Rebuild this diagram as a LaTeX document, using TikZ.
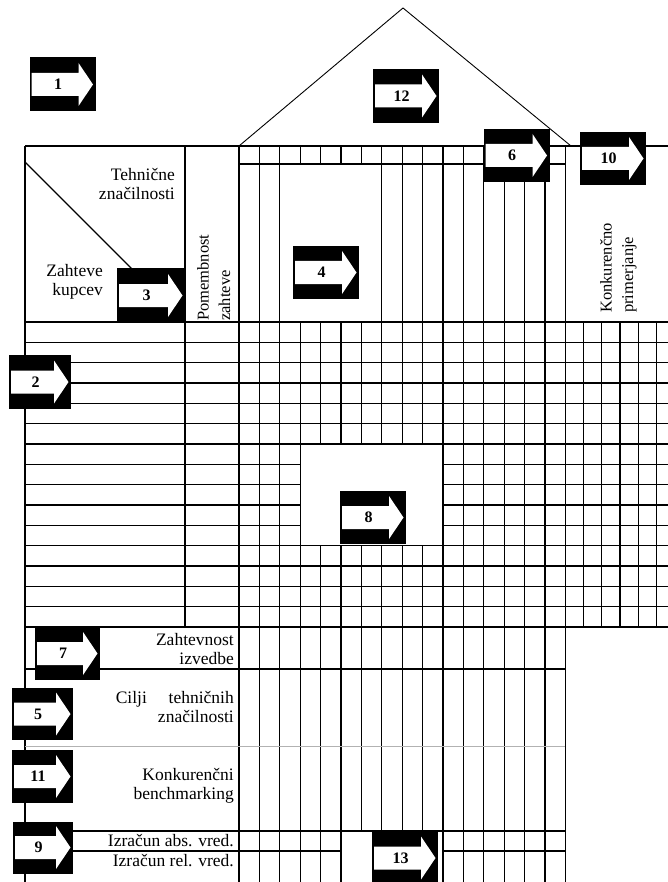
\documentclass[tikz,border=0pt]{standalone}
\usepackage{fontspec}
\setmainfont{Liberation Serif}
\begin{document}
\begin{tikzpicture}[x=1pt,y=-1pt,
  gl/.style={line width=1.35pt},
  roof/.style={line width=0.9pt},
  abox/.style={fill=black, minimum width=66pt, minimum height=54pt, inner sep=0pt,
    font=\fontsize{16}{18}\selectfont\bfseries,
    path picture={
      \fill[white]
        ([xshift=2pt,yshift=11.5pt]path picture bounding box.west) --
        ([xshift=-17pt,yshift=11.5pt]path picture bounding box.east) --
        ([xshift=-17pt,yshift=21.5pt]path picture bounding box.east) --
        ([xshift=-2.5pt]path picture bounding box.east) --
        ([xshift=-17pt,yshift=-21.5pt]path picture bounding box.east) --
        ([xshift=-17pt,yshift=-11.5pt]path picture bounding box.east) --
        ([xshift=2pt,yshift=-11.5pt]path picture bounding box.west) -- cycle;
    }},
  lbl/.style={inner sep=0pt, font=\fontsize{17.5}{19.5}\selectfont},
  lblr/.style={inner sep=0pt, rotate=90, anchor=north west, align=left,
    font=\fontsize{16.5}{21.5}\selectfont}
]
\useasboundingbox (0,0) rectangle (668,882);
\clip (0,0) rectangle (668,882);
\def\Xa{239}
\def\dx{20.4}
\def\Ya{322}
\def\dy{20.333}
% roof
\draw[roof] (\Xa,146) -- (403,8) -- (571,146);
% outer frame lines
\draw[gl] (25,146) -- (668,146);
\draw[gl] (25,146) -- (25,882);
\draw[gl] (185,146) -- (185,627);
\draw[gl] (25,162) -- (185,322);
\draw[gl] (\Xa,164) -- ({\Xa+16*\dx},164);
% technical columns
\foreach \k in {0,1,2,10,11,12,13,14,15,16}
  \draw[gl] ({\Xa+\k*\dx},146) -- ({\Xa+\k*\dx},882);
\foreach \k in {3,4,5,6}
  \draw[gl] ({\Xa+\k*\dx},146) -- ({\Xa+\k*\dx},164);
\draw[gl] ({\Xa+3*\dx},322) -- ({\Xa+3*\dx},882);
\foreach \k in {4,5,6}
  \draw[gl] ({\Xa+\k*\dx},322) -- ({\Xa+\k*\dx},444);
\foreach \k in {4,5}
  \draw[gl] ({\Xa+\k*\dx},546) -- ({\Xa+\k*\dx},882);
\draw[gl] ({\Xa+6*\dx},546) -- ({\Xa+6*\dx},831);
\foreach \k in {7,8,9}{
  \draw[gl] ({\Xa+\k*\dx},146) -- ({\Xa+\k*\dx},444);
  \draw[gl] ({\Xa+\k*\dx},546) -- ({\Xa+\k*\dx},831);
}
% rows of the matrix
\foreach \j in {0,1,2,3,4,5,6,11,12,13,14,15}
  \draw[gl] (25,{\Ya+\j*\dy}) -- (668,{\Ya+\j*\dy});
\foreach \j in {7,8,9,10}{
  \draw[gl] (25,{\Ya+\j*\dy}) -- ({\Xa+3*\dx},{\Ya+\j*\dy});
  \draw[gl] ({\Xa+10*\dx},{\Ya+\j*\dy}) -- (668,{\Ya+\j*\dy});
}
% competitive comparison columns
\foreach \m in {1,...,5}
  \draw[gl] ({\Xa+16*\dx+\m*18.2},322) -- ({\Xa+16*\dx+\m*18.2},627);
% lower rows
\draw[gl] (25,669) -- ({\Xa+16*\dx},669);
\draw[line width=1pt, gray!60] (25,746) -- ({\Xa+16*\dx},746);
\draw[gl] (25,831) -- ({\Xa+16*\dx},831);
\draw[gl] (25,851) -- ({\Xa+5*\dx},851);
\draw[gl] ({\Xa+10*\dx},851) -- ({\Xa+16*\dx},851);
% arrow boxes
\node[abox] (b1) at (62.5,84.5) {1\kern9pt};
\node[abox] (b12) at (406,96) {12\kern9pt};
\node[abox, minimum height=53pt] (b6) at (516.5,155.5) {6\kern9pt};
\node[abox, minimum height=53pt] (b10) at (613,158.5) {10\kern9pt};
\node[abox, minimum width=68pt, minimum height=55pt] (b3) at (151,295.5) {3\kern9pt};
\node[abox, minimum height=53pt] (b4) at (326,272.5) {4\kern9pt};
\node[abox, minimum width=62pt] (b2) at (40,382) {2\kern9pt};
\node[abox, minimum height=53pt] (b8) at (373,517.5) {8\kern9pt};
\node[abox, minimum width=65pt, minimum height=53pt] (b7) at (67.5,653.5) {7\kern9pt};
\node[abox, minimum width=61pt, minimum height=52pt] (b5) at (42.5,714) {5\kern9pt};
\node[abox, minimum width=61pt, minimum height=53pt] (b11) at (42.5,776.5) {11\kern9pt};
\node[abox, minimum width=60pt, minimum height=52pt] (b9) at (43,847.5) {9\kern9pt};
\node[abox] (b13) at (405,858) {13\kern9pt};
% labels
\node[lbl, anchor=north east, align=right] (tz) at (175,168) {Tehnične\\značilnosti};
\node[lbl, anchor=north east, align=right] (zk) at (103,264) {Zahteve\\kupcev};
\node[lblr] (pz) at (197,321) {Pomembnost\\zahteve};
\node[lblr] (kp) at (600,313) {Konkurenčno\\primerjanje};
\node[lbl, anchor=north east, align=right] (zi) at (234,633) {Zahtevnost\\izvedbe};
\node[lbl, anchor=north east, align=right] (ct) at (234,691) {\makebox[118pt]{Cilji\hfill tehničnih}\\značilnosti};
\node[lbl, anchor=north east, align=right] (kb) at (234,768) {Konkurenčni\\benchmarking};
\node[lbl, anchor=base east] (ia) at (234,846) {Izračun abs. vred.};
\node[lbl, anchor=base east] (ir) at (234,866) {Izračun rel. vred.};
\end{tikzpicture}
\end{document}
